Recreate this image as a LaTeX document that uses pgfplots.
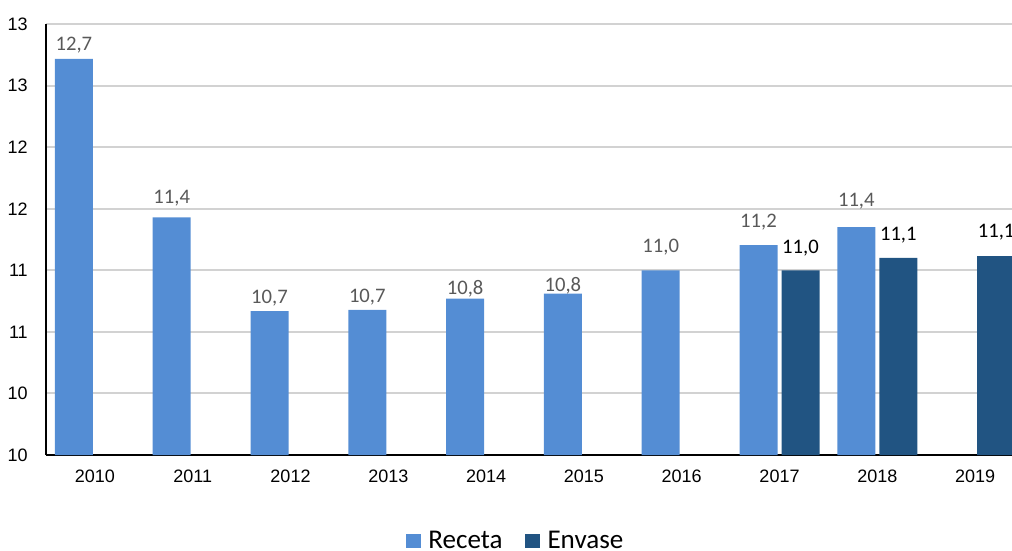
\documentclass[border=0pt]{standalone}
\usepackage{pgfplots}
\pgfplotsset{compat=1.18}
\usepackage{pgfplotstable}
\usepackage{fontspec}
\setmainfont{Liberation Sans}
\newfontfamily\carlito{Carlito}
\definecolor{receta}{RGB}{84,141,212}
\definecolor{envase}{RGB}{33,84,130}
\definecolor{gridc}{RGB}{210,210,210}
\definecolor{lblgray}{RGB}{89,89,89}

\pgfplotsset{sqlegend/.style={legend image code/.code={\fill[##1] (0pt,-5.6pt) rectangle (11.25pt,5.6pt);}}}

\pgfplotstableread{
x y lab off
0 12.717 12,7 5.8
1 11.43 11,4 10.0
2 10.668 10,7 5.7
3 10.679 10,7 5.25
4 10.77 10,8 3.2
5 10.81 10,8 1.7
6 11.0 11,0 13.3
7 11.205 11,2 12.75
8 11.35 11,4 15.5
}\receta

\pgfplotstableread{
x y lab off
7 11.0 11,0 12.2
8 11.10 11,1 13.0
9 11.116 11,1 13.7
}\envase

\begin{document}
\begin{tikzpicture}
\begin{axis}[
  at={(0pt,0pt)}, anchor=south west,
  scale only axis, width=733.5pt, height=323.25pt,
  xmin=-0.5, xmax=9.5, ymin=9.5, ymax=13,
  ybar=3pt, bar width=28.5pt,
  axis x line*=bottom, axis y line*=left,
  axis line style={black, line width=1.4pt, -},
  xtick={0,1,2,3,4,5,6,7,8,9},
  xticklabels={2010,2011,2012,2013,2014,2015,2016,2017,2018,2019},
  ytick={9.5,10,10.5,11,11.5,12,12.5,13},
  yticklabels={10,10,11,11,12,12,13,13},
  major tick length=0pt,
  tick label style={font=\fontsize{13.5}{16}\selectfont, black},
  xticklabel style={inner sep=0pt, anchor=north, yshift=-11pt},
  yticklabel style={inner sep=0pt, anchor=east, xshift=-13.5pt},
  ymajorgrids, grid style={gridc, line width=1.4pt},
  legend columns=-1,
  legend style={at={(0.4806,-0.1995)}, anchor=center, draw=none, fill=none,
    inner sep=0pt, nodes={inner ysep=0pt},
    font=\carlito\fontsize{20.3}{24}\selectfont,
    /tikz/every odd column/.append style={column sep=3.5pt},
    /tikz/every even column/.append style={column sep=15pt}},
]
\addplot[fill=receta, draw=none, sqlegend,
  point meta=explicit symbolic,
  visualization depends on={\thisrow{off} \as \myoff},
  nodes near coords={\pgfplotspointmeta},
  nodes near coords style={font=\carlito\fontsize{15.5}{18}\selectfont, text=lblgray, inner sep=0pt, text depth=0pt, yshift=\myoff pt}
] table[x=x, y=y, meta=lab]{\receta};
\addplot[fill=envase, draw=none, sqlegend,
  point meta=explicit symbolic,
  visualization depends on={\thisrow{off} \as \myoff},
  nodes near coords={\pgfplotspointmeta},
  nodes near coords style={font=\carlito\fontsize{15.5}{18}\selectfont, text=black, inner sep=0pt, text depth=0pt, yshift=\myoff pt}
] table[x=x, y=y, meta=lab]{\envase};
\legend{Receta, Envase}
\end{axis}
\pgfresetboundingbox
\useasboundingbox (-34.5pt,-71.25pt) rectangle (724.5pt,341.25pt);
\end{tikzpicture}
\end{document}
